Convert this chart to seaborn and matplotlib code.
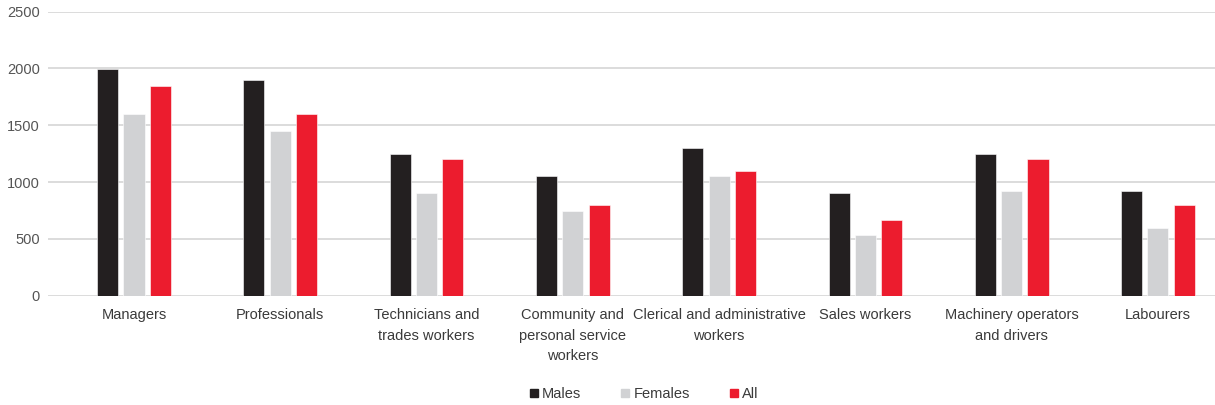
import matplotlib
matplotlib.use("Agg")
import matplotlib.pyplot as plt
from matplotlib.lines import Line2D
import seaborn as sns
import pandas as pd

occupations = [
    "Managers",
    "Professionals",
    "Technicians and\ntrades workers",
    "Community and\npersonal service\nworkers",
    "Clerical and administrative\nworkers",
    "Sales workers",
    "Machinery operators\nand drivers",
    "Labourers",
]
males = [1995, 1900, 1250, 1050, 1300, 900, 1250, 920]
females = [1600, 1450, 900, 750, 1050, 535, 920, 600]
all_persons = [1845, 1600, 1200, 800, 1100, 670, 1200, 800]
series_names = ["Males", "Females", "All"]
y_ticks = [0, 500, 1000, 1500, 2000, 2500]

colors = {"Males": "#231f20", "Females": "#d1d2d4", "All": "#ec1c2e"}

rows = []
for name, vals in zip(series_names, [males, females, all_persons]):
    for occ, v in zip(occupations, vals):
        rows.append({"Occupation": occ, "Series": name, "Value": v})
df = pd.DataFrame(rows)

sns.set_theme(style="white")
plt.rcParams["font.family"] = ["Liberation Sans", "DejaVu Sans"]

fig = plt.figure(figsize=(12.15, 4.05), dpi=100)
ax = fig.add_axes([48 / 1215, 1 - 295.7 / 405, (1215 - 48) / 1215, (295.7 - 11.7) / 405])

sns.barplot(
    data=df, x="Occupation", y="Value", hue="Series",
    hue_order=series_names, order=occupations, palette=colors,
    saturation=1, width=0.54, gap=0.2, errorbar=None, legend=False, ax=ax,
    edgecolor="white", linewidth=0.4, zorder=3,
)

ax.set_ylim(0, 2500)
ax.set_xlim(-0.588, 7.39)
ax.set_yticks(y_ticks)
ax.set_yticklabels([str(t) for t in y_ticks])
ax.yaxis.grid(True, color="#d9d9d9", linewidth=1.3, zorder=0)
ax.set_axisbelow(True)
for s in ax.spines.values():
    s.set_visible(False)
ax.set_xlabel("")
ax.set_ylabel("")
ax.tick_params(axis="y", length=0, pad=6, labelsize=10.5, labelcolor="#555555")
ax.tick_params(axis="x", length=0, pad=9, labelsize=10.5, labelcolor="#3a3a3a")
for lbl in ax.get_xticklabels():
    lbl.set_linespacing(1.6)

handles = [
    Line2D([], [], marker="s", linestyle="none", markersize=6,
           markerfacecolor=colors[n], markeredgecolor=colors[n], label=n)
    for n in series_names
]
fig.legend(
    handles=handles, loc="center", bbox_to_anchor=(643 / 1215, 1 - 394 / 405),
    ncol=3, frameon=False, fontsize=10.5, handletextpad=0.1,
    columnspacing=2.6, handlelength=0.9, labelcolor="#3a3a3a",
)

fig.savefig("out.png", dpi=100)
